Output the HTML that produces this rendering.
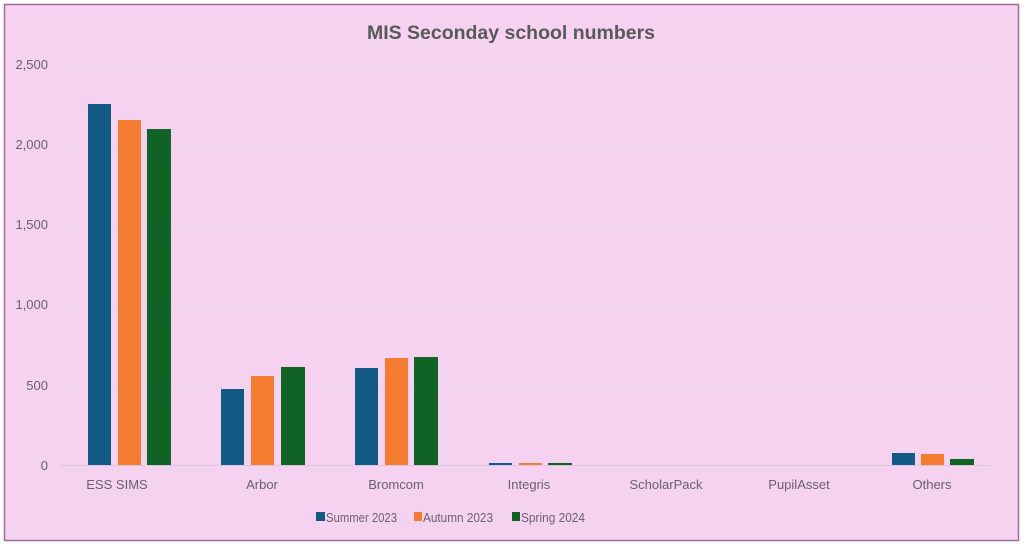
<!DOCTYPE html>
<html><head><meta charset="utf-8"><style>
body{margin:0;background:#fff;width:1024px;height:546px;overflow:hidden}
svg{display:block}
text{font-family:"Liberation Sans",sans-serif}
</style></head><body>
<svg width="1024" height="546" viewBox="0 0 1024 546">
<rect x="4.5" y="4.5" width="1014" height="536" fill="#f5d3f0" stroke="#a46a98" stroke-width="1.5"/>
<text x="367" y="39" textLength="288" lengthAdjust="spacingAndGlyphs" font-size="19" font-weight="bold" fill="#595959">MIS Seconday school numbers</text>
<g stroke="#e6d8ea" stroke-width="1">
<line x1="60" x2="990" y1="64.5" y2="64.5"/>
<line x1="60" x2="990" y1="144.5" y2="144.5"/>
<line x1="60" x2="990" y1="224.5" y2="224.5"/>
<line x1="60" x2="990" y1="304.5" y2="304.5"/>
<line x1="60" x2="990" y1="385.5" y2="385.5"/>
<line x1="60" x2="990" y1="465.5" y2="465.5" stroke="#d8c8dc"/>
</g>
<g font-size="13" fill="#6a6070" text-anchor="end">
<text x="48" y="69">2,500</text>
<text x="48" y="149">2,000</text>
<text x="48" y="229">1,500</text>
<text x="48" y="309">1,000</text>
<text x="48" y="390">500</text>
<text x="48" y="470">0</text>
</g>
<rect x="88" y="104" width="23" height="361" fill="#125a85"/>
<rect x="118" y="120" width="23" height="345" fill="#f47c30"/>
<rect x="147" y="129" width="24" height="336" fill="#106325"/>
<rect x="221" y="389" width="23" height="76" fill="#125a85"/>
<rect x="251" y="376" width="23" height="89" fill="#f47c30"/>
<rect x="281" y="367" width="24" height="98" fill="#106325"/>
<rect x="355" y="368" width="23" height="97" fill="#125a85"/>
<rect x="385" y="358" width="23" height="107" fill="#f47c30"/>
<rect x="414" y="357" width="24" height="108" fill="#106325"/>
<rect x="489" y="463" width="23" height="2" fill="#125a85"/>
<rect x="519" y="463" width="23" height="2" fill="#f47c30"/>
<rect x="548" y="463" width="24" height="2" fill="#106325"/>
<rect x="892" y="453" width="23" height="12" fill="#125a85"/>
<rect x="921" y="454" width="23" height="11" fill="#f47c30"/>
<rect x="950" y="459" width="24" height="6" fill="#106325"/>
<g font-size="13" fill="#6a6070" text-anchor="middle">
<text x="117" y="489">ESS SIMS</text>
<text x="262" y="489">Arbor</text>
<text x="396" y="489">Bromcom</text>
<text x="529" y="489">Integris</text>
<text x="666" y="489">ScholarPack</text>
<text x="799" y="489">PupilAsset</text>
<text x="932" y="489">Others</text>
</g>
<g font-size="13" fill="#6a6070">
<rect x="316" y="512" width="9" height="9" fill="#125a85"/><text x="326" y="522" textLength="71" lengthAdjust="spacingAndGlyphs">Summer 2023</text>
<rect x="414" y="512" width="8" height="9" fill="#f47c30"/><text x="423" y="522" textLength="70" lengthAdjust="spacingAndGlyphs">Autumn 2023</text>
<rect x="512" y="512" width="8" height="9" fill="#106325"/><text x="521" y="522" textLength="64" lengthAdjust="spacingAndGlyphs">Spring 2024</text>
</g>
</svg>
</body></html>
